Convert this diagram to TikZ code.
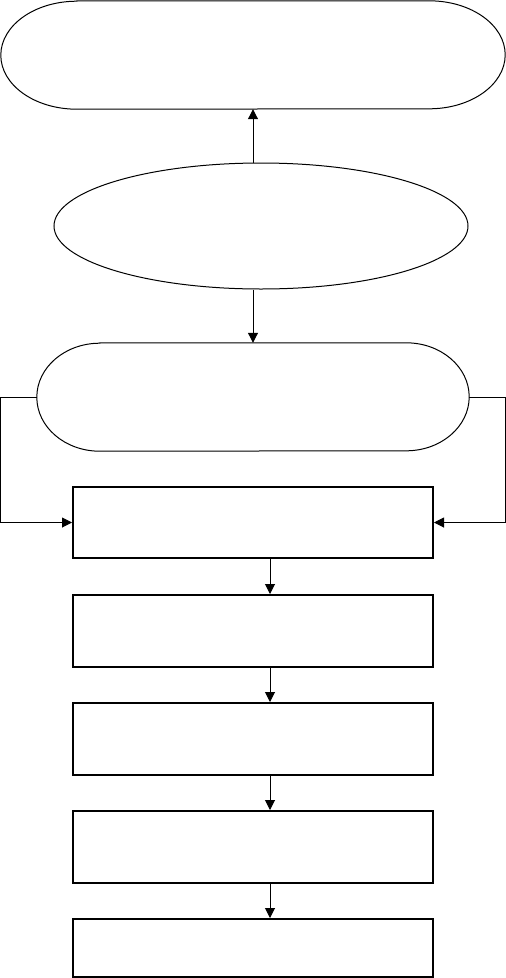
\documentclass[tikz,border=0pt]{standalone}
\usetikzlibrary{arrows.meta,shapes.geometric}
\begin{document}
\begin{tikzpicture}[x=1pt,y=-1pt,
  thinline/.style={line width=1pt},
  boxstyle/.style={draw,rectangle,line width=2pt,minimum width=360pt,inner sep=0pt},
  arr/.style={line width=1pt,-{Triangle[length=10pt,width=10pt]}},
  holder/.style={rectangle,inner sep=0pt,draw=none}]
\useasboundingbox (0,0) rectangle (506,978);
% top stadium
\node[holder,minimum width=504pt,minimum height=108pt] (t) at (253,55) {};
\draw[thinline] ([xshift=76pt]t.north west) -- ([xshift=-76pt]t.north east)
  arc[start angle=90,end angle=-90,x radius=76pt,y radius=54pt]
  -- ([xshift=76pt]t.south west)
  arc[start angle=270,end angle=90,x radius=76pt,y radius=54pt] -- cycle;
% ellipse
\node[draw,ellipse,thinline,minimum width=414pt,minimum height=126pt,inner sep=0pt] (e) at (261,226) {};
% second stadium
\node[holder,minimum width=432pt,minimum height=108pt] (s) at (253,397) {};
\draw[thinline] ([xshift=63pt]s.north west) -- ([xshift=-63pt]s.north east)
  arc[start angle=90,end angle=-90,x radius=63pt,y radius=54pt]
  -- ([xshift=63pt]s.south west)
  arc[start angle=270,end angle=90,x radius=63pt,y radius=54pt] -- cycle;
% boxes
\node[boxstyle,minimum height=71pt] (b1) at (253,522.5) {};
\node[boxstyle,minimum height=72pt] (b2) at (253,631) {};
\node[boxstyle,minimum height=72pt] (b3) at (253,739) {};
\node[boxstyle,minimum height=72pt] (b4) at (253,847) {};
\node[boxstyle,minimum height=58pt] (b5) at (253,948) {};
% connectors
\draw[arr] (e.north -| t.south) -- (t.south);
\draw[arr] (e.south -| s.north) -- (s.north);
\draw[arr] (s.west) -- ++(-36,0) |- (b1.west);
\draw[arr] (s.east) -- ++(36,0) |- (b1.east);
\draw[arr] ([xshift=17pt]b1.south) -- ([xshift=17pt]b2.north);
\draw[arr] ([xshift=17pt]b2.south) -- ([xshift=17pt]b3.north);
\draw[arr] ([xshift=17pt]b3.south) -- ([xshift=17pt]b4.north);
\draw[arr] ([xshift=17pt]b4.south) -- ([xshift=17pt]b5.north);
\end{tikzpicture}
\end{document}
